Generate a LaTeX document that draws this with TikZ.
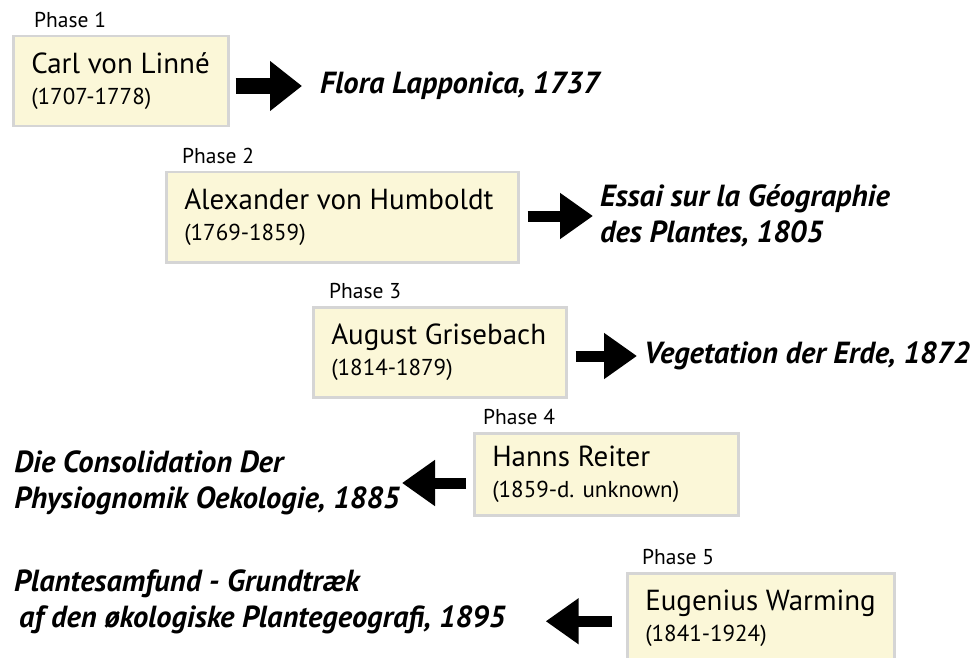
\documentclass[tikz,border=0pt]{standalone}
\usepackage{fontspec}
\setmainfont{PT Sans}
\usetikzlibrary{positioning,arrows.meta}
\definecolor{boxfill}{HTML}{FBF7D8}
\definecolor{boxline}{HTML}{D5D5D5}
\newcommand{\lifespan}[1]{{\fontsize{23}{26}\selectfont #1}}

\begin{document}
\begin{tikzpicture}[x=1pt,y=-1pt,
  personbox/.style={draw=boxline,line width=2.5pt,fill=boxfill,anchor=north west,align=flush left,
    inner xsep=18pt,minimum height=90pt,text width=#1,minimum width=#1+36pt,
    font=\fontsize{29}{31}\selectfont},
  phase/.style={font=\fontsize{21.5}{24}\selectfont,inner sep=0pt},
  work/.style={font=\fontsize{30.5}{36}\selectfont\bfseries\itshape,align=flush left,inner sep=0pt},
  fwd/.style={line width=11pt,-{Triangle[length=33pt,width=44pt]}}]
\clip (0,0) rectangle (980,658);

% the five phases
\node[personbox=179pt] (b1) at (12,35) {Carl von Linné\\\lifespan{(1707-1778)}};
\node[personbox=316pt] (b2) at (165,171) {Alexander von Humboldt\\\lifespan{(1769-1859)}};
\node[personbox=217pt] (b3) at (312,306) {August Grisebach\\\lifespan{(1814-1879)}};
\node[personbox=228pt,minimum height=82pt] (b4) at (473,432) {Hanns Reiter\\\lifespan{(1859-d. unknown)}};
\node[personbox=231pt] (b5) at (626,572) {Eugenius Warming\\\lifespan{(1841-1924)}};

\node[phase,above right=7pt and 22pt of b1.north west] (p1) {Phase 1};
\node[phase,above right=7pt and 17pt of b2.north west] (p2) {Phase 2};
\node[phase,above right=7pt and 17pt of b3.north west] (p3) {Phase 3};
\node[phase,above right=7pt and 10pt of b4.north west] (p4) {Phase 4};
\node[phase,above right=7pt and 16pt of b5.north west] (p5) {Phase 5};

% works
\node[work,anchor=west] (t1) at (320,86) {Flora Lapponica, 1737};
\node[work,anchor=west] (t2) at (600,216) {Essai sur la Géographie\\des Plantes, 1805};
\node[work,anchor=west] (t3) at (644,356) {Vegetation der Erde, 1872};
\node[work,anchor=east] (t4) at (400,483) {Die Consolidation Der\\Physiognomik Oekologie, 1885};
\node[work,anchor=west] (t5) at (14,602) {Plantesamfund - Grundtræk\\\hspace*{5pt}af den økologiske Plantegeografi, 1895};

\draw[fwd,line width=16pt,-{Triangle[length=32pt,width=48pt]},shorten <=6pt,shorten >=18pt] (b1.east |- t1.west) -- (t1.west);
\draw[fwd,shorten <=8pt,shorten >=7pt] (b2.east |- t2.west) -- (t2.west);
\draw[fwd,shorten <=8pt,shorten >=7pt] (b3.east |- t3.west) -- (t3.west);
\draw[fwd,shorten <=7pt,shorten >=2pt] (b4.west |- t4.east) -- (t4.east);
\draw[fwd,shorten <=14pt,shorten >=40pt] ([yshift=-3pt]b5.west) -- ([yshift=-3pt]b5.west -| t5.east);
\end{tikzpicture}
\end{document}
